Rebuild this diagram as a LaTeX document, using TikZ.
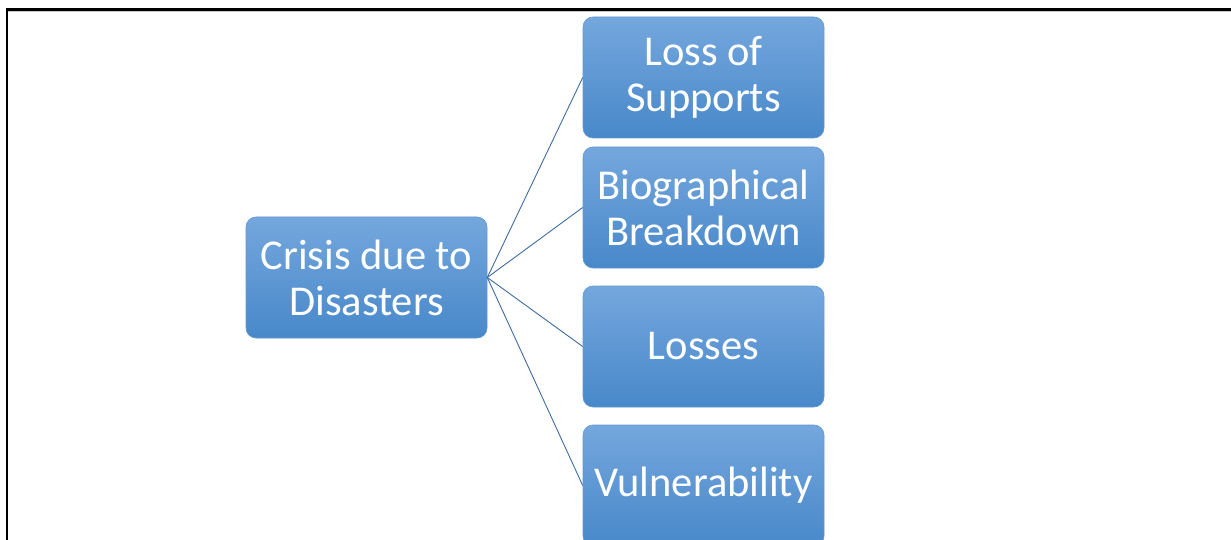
\documentclass[tikz,border=0pt]{standalone}
\usepackage{fontspec}
\setmainfont{Carlito}
\definecolor{boxtop}{RGB}{116,167,221}
\definecolor{boxbot}{RGB}{72,136,202}
\definecolor{boxline}{RGB}{98,152,210}
\definecolor{linkline}{RGB}{62,108,160}
\begin{document}
\begin{tikzpicture}[x=1pt,y=-1pt,
  blockbox/.style={rounded corners=10pt, minimum width=241pt, minimum height=121pt,
    inner sep=0pt, top color=boxtop, bottom color=boxbot, draw=boxline, line width=0.6pt,
    text=white, align=center,
    font=\fontsize{42.5}{46}\selectfont},
  link/.style={draw=linkline, line width=0.9pt}]
  \useasboundingbox (0,0) rectangle (1231,540);
  \clip (0,0) rectangle (1231,540);
  % frame edges
  \draw[black, line width=2.2pt] (7,548) -- (7,9.5) -- (1240,9.5);
  \draw[gray!45, line width=1pt] (8.2,11.2) -- (1240,11.2);
  % blocks
  \node[blockbox] (hub) at (366.5,277.5) {Crisis due to\\Disasters};
  \node[blockbox] (b1) at (703.5,77.5) {Loss of\\Supports};
  \node[blockbox] (b2) at (703.5,207.5) {Biographical\\Breakdown};
  \node[blockbox] (b3) at (703.5,346.5) {Losses};
  \node[blockbox] (b4) at (703.5,485.5) {Vulnerability};
  % connectors
  \foreach \t in {b1,b2,b3,b4} \draw[link] (hub.east) -- (\t.west);
\end{tikzpicture}
\end{document}
